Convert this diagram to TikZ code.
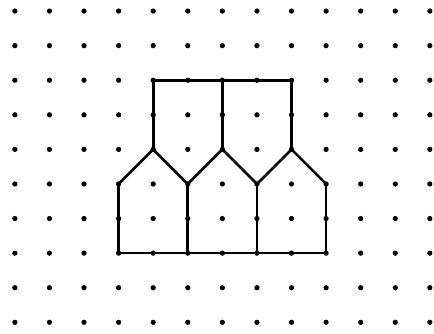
\documentclass[tikz,border=0pt]{standalone}
\usepackage{tikz}

\begin{document}
\begin{tikzpicture}[x=0.6cm, y=0.6cm, line width=1.3pt, line join=round]
	\useasboundingbox (-0.43,-0.31) rectangle (12.12,9.32);
	% dot grid
	\foreach \i in {0,...,12}
		\foreach \j in {0,...,9}
			\fill (\i,\j) circle (1.3pt);
	% upper frame
	\draw (4,5) -- (4,7) -- (8,7) -- (8,5);
	\draw (6,7) -- (6,5);
	% roofs
	\draw (3,4) -- (4,5) -- (5,4) -- (6,5) -- (7,4) -- (8,5) -- (9,4);
	% walls
	\draw (3,4) -- (3,2) -- (9,2) -- (9,4);
	\draw (5,4) -- (5,2);
	\draw (7,4) -- (7,2);
\end{tikzpicture}
\end{document}
